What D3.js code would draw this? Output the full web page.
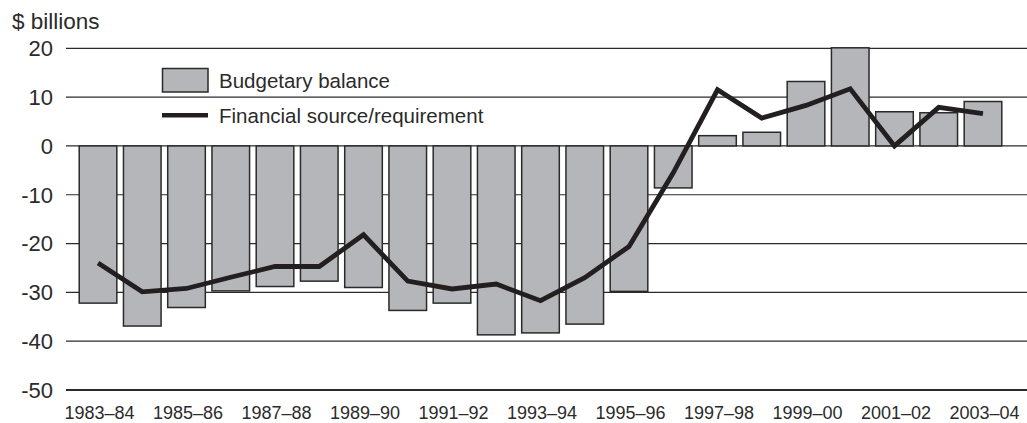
<!DOCTYPE html>
<html>
<head>
<meta charset="utf-8">
<script src="https://cdn.jsdelivr.net/npm/d3@7"></script>
<style>
  html, body { margin: 0; padding: 0; background: #fff; }
  svg { display: block; font-family: "Liberation Sans", Arial, Helvetica, sans-serif; }
</style>
</head>
<body>
<svg id="chart" width="1027" height="423"></svg>
<script>
const years = ["1983–84","1984–85","1985–86","1986–87","1987–88","1988–89","1989–90","1990–91","1991–92","1992–93","1993–94","1994–95","1995–96","1996–97","1997–98","1998–99","1999–00","2000–01","2001–02","2002–03","2003–04"];
const budgetaryBalance = [-32.2,-36.9,-33.1,-29.7,-28.8,-27.7,-29.0,-33.7,-32.2,-38.7,-38.3,-36.5,-29.8,-8.6,2.1,2.8,13.2,20.1,7.0,6.8,9.1];
const financialReq = [-24.0,-29.9,-29.2,-26.9,-24.7,-24.7,-18.2,-27.7,-29.3,-28.3,-31.7,-27.0,-20.6,-5.5,11.5,5.7,8.3,11.7,0.0,7.9,6.6];
const yTicks = [20,10,0,-10,-20,-30,-40,-50];
const xTickLabels = ["1983–84","1985–86","1987–88","1989–90","1991–92","1993–94","1995–96","1997–98","1999–00","2001–02","2003–04"];
const legendLabels = ["Budgetary balance","Financial source/requirement"];

const svg = d3.select("#chart");
const textColor = "#2b2b2b";

const x = d3.scaleBand().domain(years).range([75.9, 1005.1]).paddingInner(0.15).paddingOuter(0.075);
const y = d3.scaleLinear().domain([-50, 20]).range([390, 48.3]);

// gridlines
svg.append("g").selectAll("line").data(yTicks).join("line")
  .attr("x1", 66).attr("x2", 1027)
  .attr("y1", d => y(d)).attr("y2", d => y(d))
  .attr("stroke", "#2b2b2b")
  .attr("stroke-width", d => d === -50 ? 2 : 1.2);

// y tick labels
svg.append("g").selectAll("text").data(yTicks).join("text")
  .attr("x", 53).attr("y", d => y(d))
  .attr("dy", "0.36em")
  .attr("text-anchor", "end")
  .attr("font-size", 22)
  .attr("fill", textColor)
  .text(d => d);

// axis title
svg.append("text").attr("x", 12).attr("y", 28.5)
  .attr("font-size", 22.5).attr("fill", textColor).text("$ billions");

// bars
svg.append("g").selectAll("rect").data(years).join("rect")
  .attr("x", d => x(d))
  .attr("width", x.bandwidth())
  .attr("y", (d, i) => Math.min(y(0), y(budgetaryBalance[i])))
  .attr("height", (d, i) => Math.abs(y(budgetaryBalance[i]) - y(0)))
  .attr("fill", "#b5b6ba")
  .attr("stroke", "#2a2a2a")
  .attr("stroke-width", 1.5);

// line
const line = d3.line()
  .x((d, i) => x(years[i]) + x.bandwidth() / 2)
  .y(d => y(d));
svg.append("path").datum(financialReq)
  .attr("d", line)
  .attr("fill", "none")
  .attr("stroke", "#231f20")
  .attr("stroke-width", 4.8)
  .attr("stroke-linejoin", "miter");

// x labels
svg.append("g").selectAll("text").data(xTickLabels).join("text")
  .attr("x", d => x(d) + x.bandwidth() / 2 + 1.5)
  .attr("y", 419)
  .attr("text-anchor", "middle")
  .attr("font-size", 18)
  .attr("fill", textColor)
  .text(d => d);

// legend
const lg = svg.append("g");
lg.append("rect").attr("x", 162.5).attr("y", 68.5).attr("width", 45.5).attr("height", 23.5)
  .attr("fill", "#b5b6ba").attr("stroke", "#2a2a2a").attr("stroke-width", 1.5);
lg.append("line").attr("x1", 162).attr("x2", 208).attr("y1", 115.3).attr("y2", 115.3)
  .attr("stroke", "#231f20").attr("stroke-width", 4.5);
lg.selectAll("text").data(legendLabels).join("text")
  .attr("x", 219).attr("y", (d, i) => i === 0 ? 87.7 : 122.7)
  .attr("font-size", 20.5).attr("fill", textColor)
  .text(d => d);
</script>
</body>
</html>
